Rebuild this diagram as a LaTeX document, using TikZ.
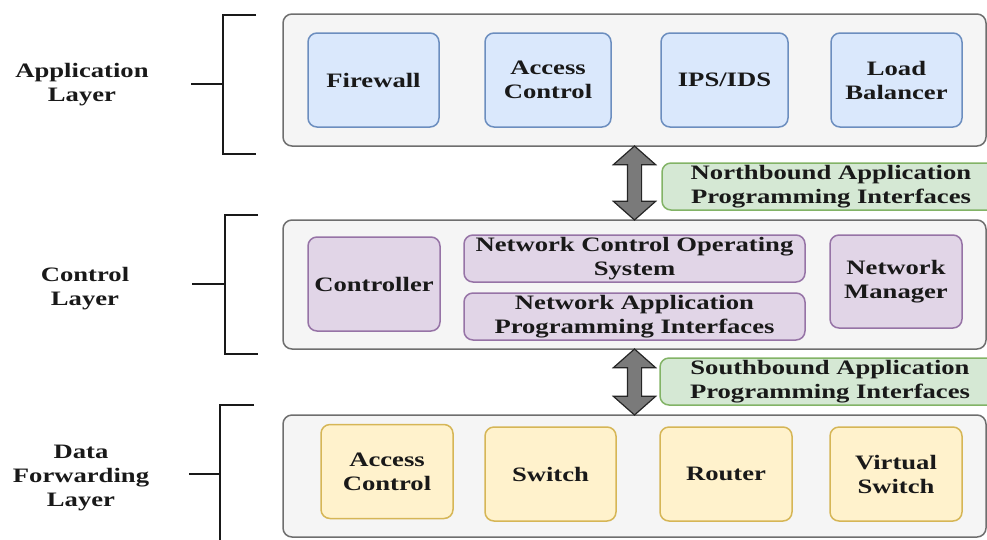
\documentclass[tikz,border=0pt]{standalone}
\usepackage{fontspec}
\setmainfont{Liberation Serif}[FakeStretch=1.3]
\usetikzlibrary{shapes.arrows,calc}

\definecolor{layerfill}{HTML}{F5F5F5}
\definecolor{layerdraw}{HTML}{6E6E6E}
\definecolor{appfill}{HTML}{DAE8FC}
\definecolor{appdraw}{HTML}{6C8EBF}
\definecolor{ctlfill}{HTML}{E1D5E7}
\definecolor{ctldraw}{HTML}{9673A6}
\definecolor{datafill}{HTML}{FFF2CC}
\definecolor{datadraw}{HTML}{D6B656}
\definecolor{apifill}{HTML}{D5E8D4}
\definecolor{apidraw}{HTML}{82B366}
\definecolor{arrowfill}{HTML}{7A7A7A}

\tikzset{
  boldtext/.style={font=\bfseries\fontsize{20.5}{24}\selectfont,text=black!90,align=center},
  layerbox/.style={draw=layerdraw,fill=layerfill,line width=1.5pt,rounded corners=9pt,
    minimum width=703pt,inner sep=0pt},
  unit/.style={boldtext,line width=1.5pt,rounded corners=9pt,inner sep=0pt},
  appunit/.style={unit,draw=appdraw,fill=appfill,minimum height=94pt},
  ctlunit/.style={unit,draw=ctldraw,fill=ctlfill},
  dataunit/.style={unit,draw=datadraw,fill=datafill,minimum width=132pt,minimum height=94pt},
  apibox/.style={unit,draw=apidraw,fill=apifill,minimum height=47pt},
  apiarrow/.style={double arrow,rotate=90,draw=black!85,fill=arrowfill,line width=1.2pt,
    inner sep=6.5pt,double arrow head extend=14pt,double arrow tip angle=97},
  bracketline/.style={black!90,line width=2pt}
}

\begin{document}
\begin{tikzpicture}[x=1pt,y=-1pt]

\useasboundingbox (0,0) rectangle (987,539);

% application layer
\node[layerbox,minimum height=132pt] (app) at (634.5,80) {};
\node[appunit,minimum width=131pt] (firewall) at (373.5,80) {Firewall};
\node[appunit,minimum width=126pt] (access) at (548,80) {Access\\Control};
\node[appunit,minimum width=127pt] (ips) at (724.5,80) {IPS/IDS};
\node[appunit,minimum width=131pt] (balancer) at (896.5,80) {Load\\Balancer};

% control layer
\node[layerbox,minimum height=129pt] (ctl) at (634.5,284.5) {};
\node[ctlunit,minimum width=132pt,minimum height=94pt] (controller) at (374,284) {Controller};
\node[ctlunit,minimum width=341pt,minimum height=47pt] (nos) at (634.5,258.5) {Network Control Operating\\System};
\node[ctlunit,minimum width=341pt,minimum height=47pt] (napi) at (634.5,316.5) {Network Application\\Programming Interfaces};
\node[ctlunit,minimum width=132pt,minimum height=93pt] (manager) at (896,281.5) {Network\\Manager};

% data forwarding layer
\node[layerbox,minimum height=122pt] (data) at (634.5,476) {};
\node[dataunit] (dataccess) at (387,471.5) {Access\\Control};
\node[dataunit,minimum width=131pt] (switch) at (550.5,474) {Switch};
\node[dataunit] (router) at (726,474) {Router};
\node[dataunit] (vswitch) at (896,474) {Virtual\\Switch};

% interfaces between the layers
\node[apiarrow,minimum height=74pt] (north) at ($(app.south)!0.5!(ctl.north)$) {};
\node[apibox,minimum width=338pt] (northapi) at (831,186.5) {Northbound Application\\Programming Interfaces};
\node[apiarrow,minimum height=66pt] (south) at ($(ctl.south)!0.5!(data.north)$) {};
\node[apibox,minimum width=340pt] (southapi) at (830,381.5) {Southbound Application\\Programming Interfaces};

% layer names and brackets
\node[boldtext] (applabel) at (82,84.5) {Application\\Layer};
\node[boldtext] (ctllabel) at (85,289) {Control\\Layer};
\node[boldtext] (datalabel) at (81,478) {Data\\Forwarding\\Layer};

\draw[bracketline] (256,15) -- (223,15) -- (223,154) -- (256,154);
\draw[bracketline] (191,84) -- (223,84);
\draw[bracketline] (258,215) -- (225,215) -- (225,354) -- (258,354);
\draw[bracketline] (192,284) -- (225,284);
\draw[bracketline] (254,405) -- (220,405) -- (220,545);
\draw[bracketline] (189,474) -- (220,474);

\end{tikzpicture}
\end{document}
